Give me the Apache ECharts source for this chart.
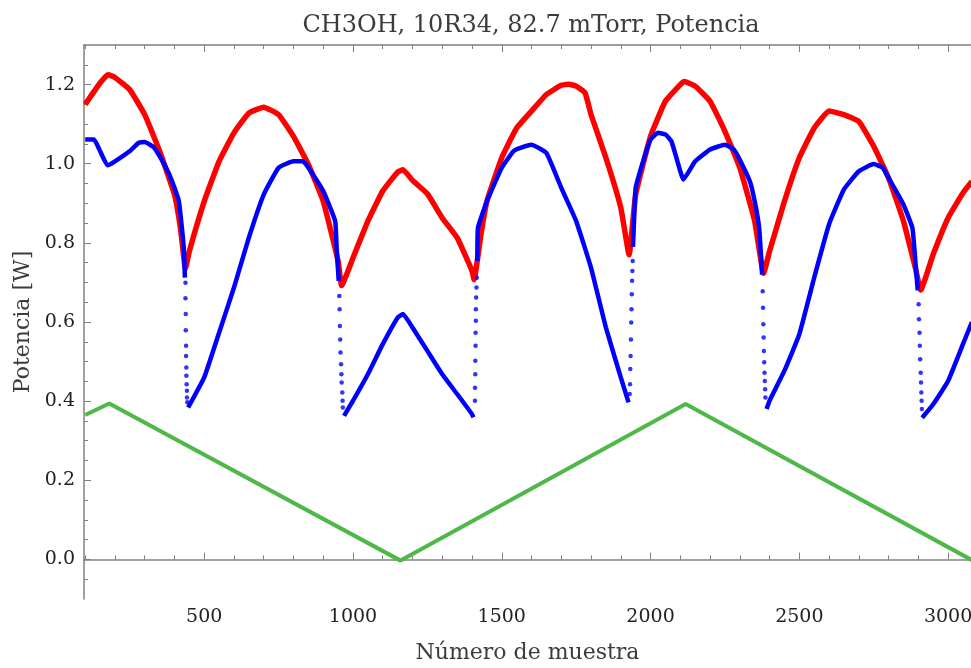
<!DOCTYPE html>
<html><head><meta charset="utf-8">
<script src="https://cdn.jsdelivr.net/npm/echarts@6/dist/echarts.min.js"></script>
<style>html,body{margin:0;padding:0;background:#fff}#c{width:971px;height:668px}</style>
</head><body><div id="c"></div>
<script>
// ---- tick labels / ticks ----
const xMajorTicks = [500, 1000, 1500, 2000, 2500, 3000];
const xMinorTicks = [100, 200, 300, 400, 600, 700, 800, 900, 1100, 1200, 1300, 1400, 1600, 1700, 1800, 1900, 2100, 2200, 2300, 2400, 2600, 2700, 2800, 2900];
const yMajorTicks = [0, 0.2, 0.4, 0.6, 0.8, 1.0, 1.2];
const yMinorTicks = [-0.05, 0.05, 0.1, 0.15, 0.25, 0.3, 0.35, 0.45, 0.5, 0.55, 0.65, 0.7, 0.75, 0.85, 0.9, 0.95, 1.05, 1.1, 1.15, 1.25];

// ---- series values ----
const red = [[100,1.150],[150,1.204],[177,1.225],[200,1.218],[250,1.187],[300,1.124],[350,1.032],[400,0.922],[420,0.838],[437,0.735],[450,0.779],[500,0.905],[550,1.006],[600,1.078],[650,1.128],[700,1.143],[750,1.124],[800,1.069],[850,0.998],[900,0.905],[950,0.754],[962,0.692],[1000,0.762],[1050,0.855],[1100,0.931],[1150,0.979],[1168,0.985],[1200,0.958],[1250,0.924],[1300,0.863],[1350,0.813],[1400,0.729],[1407,0.707],[1430,0.821],[1450,0.905],[1500,1.015],[1550,1.090],[1600,1.133],[1650,1.175],[1700,1.198],[1725,1.201],[1750,1.196],[1780,1.179],[1800,1.124],[1850,1.015],[1900,0.889],[1928,0.770],[1950,0.922],[2000,1.069],[2050,1.158],[2100,1.200],[2113,1.208],[2150,1.196],[2200,1.158],[2250,1.082],[2300,0.990],[2350,0.855],[2380,0.723],[2400,0.779],[2450,0.905],[2500,1.015],[2550,1.090],[2600,1.133],[2650,1.124],[2700,1.107],[2750,1.044],[2800,0.964],[2850,0.855],[2890,0.737],[2908,0.681],[2950,0.771],[3000,0.863],[3050,0.926],[3080,0.955]];

const blueA = [[100,1.061],[130,1.061],[150,1.032],[175,0.996],[200,1.006],[250,1.032],[280,1.053],[300,1.055],[330,1.042],[350,1.019],[380,0.977],[400,0.939],[415,0.905],[425,0.838],[432,0.779],[435,0.712]];
const blueB = [[446,0.384],[500,0.460],[550,0.573],[600,0.687],[650,0.813],[700,0.922],[750,0.990],[800,1.006],[832,1.006],[850,0.990],[900,0.931],[940,0.855],[945,0.788],[952,0.704]];
const blueC = [[970,0.363],[1000,0.401],[1050,0.468],[1100,0.544],[1150,0.611],[1168,0.620],[1200,0.586],[1250,0.527],[1300,0.468],[1350,0.418],[1400,0.367],[1405,0.359]];
const blueD = [[1418,0.754],[1420,0.838],[1450,0.905],[1500,0.990],[1540,1.032],[1563,1.040],[1600,1.048],[1650,1.027],[1700,0.939],[1750,0.855],[1800,0.737],[1850,0.586],[1900,0.460],[1926,0.397]];
const blueE = [[1941,0.790],[1945,0.863],[1950,0.939],[1975,1.006],[2000,1.061],[2025,1.078],[2050,1.074],[2070,1.057],[2100,0.981],[2110,0.960],[2150,1.006],[2200,1.036],[2250,1.048],[2280,1.036],[2300,1.010],[2334,0.955],[2350,0.905],[2365,0.838],[2375,0.720]];
const blueF = [[2390,0.380],[2400,0.401],[2450,0.477],[2500,0.569],[2550,0.712],[2600,0.847],[2650,0.935],[2700,0.981],[2750,0.999],[2780,0.990],[2800,0.964],[2850,0.897],[2880,0.838],[2890,0.754],[2898,0.680]];
const blueG = [[2913,0.358],[2950,0.392],[3000,0.451],[3050,0.544],[3080,0.600]];

const blueDots = [
  [437,0.699],[437,0.660],[438,0.620],[438,0.579],[439,0.540],[439,0.514],[440,0.485],[440,0.464],[441,0.443],[442,0.426],[442,0.409],[443,0.397],
  [954,0.666],[955,0.632],[956,0.590],[957,0.556],[958,0.523],[960,0.493],[961,0.468],[962,0.447],[964,0.422],[965,0.401],[966,0.384],
  [1410,0.401],[1410,0.434],[1411,0.468],[1411,0.502],[1412,0.540],[1412,0.573],[1413,0.603],[1413,0.632],[1414,0.662],[1415,0.687],[1416,0.712],
  [1930,0.418],[1931,0.443],[1932,0.481],[1933,0.514],[1934,0.556],[1935,0.599],[1936,0.632],[1937,0.670],[1938,0.704],[1939,0.729],[1940,0.754],
  [2377,0.678],[2378,0.636],[2379,0.594],[2380,0.561],[2381,0.527],[2382,0.498],[2383,0.472],[2384,0.451],[2385,0.430],[2386,0.409],
  [2901,0.645],[2902,0.607],[2904,0.573],[2905,0.540],[2906,0.506],[2908,0.472],[2909,0.447],[2910,0.422],[2911,0.401],[2912,0.380]
];

const green = [[100,0.365],[181,0.394],[1160,-0.003],[2118,0.393],[3100,-0.010]];

// ---- build ----
const blueSegments = [blueA, blueB, blueC, blueD, blueE, blueF, blueG];
const blueLine = [];
blueSegments.forEach((s, i) => {
  if (i > 0) blueLine.push([s[0][0] - 1, '-']);
  s.forEach(p => blueLine.push(p));
});

const FONT = 'DejaVu Serif';
const AX = '#808080';
const xBase = { type: 'value', min: 96, max: 3077, splitLine: { show: false } };
const yBase = { type: 'value', min: -0.1, max: 1.3, splitLine: { show: false } };

const chart = echarts.init(document.getElementById('c'));
chart.setOption({
  animation: false,
  backgroundColor: '#fff',
  title: {
    text: 'CH3OH, 10R34, 82.7 mTorr, Potencia',
    left: 526, top: 9, textAlign: 'center',
    textStyle: { fontFamily: FONT, fontSize: 24, fontWeight: 'normal', color: '#3c3c3c' }
  },
  grid: { left: 84, right: 0, top: 45, bottom: 69, containLabel: false, outerBoundsMode: 'none' },
  xAxis: [
    Object.assign({}, xBase, {
      position: 'bottom',
      axisLine: { show: true, lineStyle: { color: AX, width: 1.5 } },
      axisTick: { show: true, inside: true, length: 7, customValues: xMajorTicks, lineStyle: { color: AX, width: 1 } },
      axisLabel: { show: true, customValues: xMajorTicks, margin: 9, fontFamily: FONT, fontSize: 19, color: '#222',
        formatter: v => String(v) },
      name: 'Número de muestra', nameLocation: 'middle', nameGap: 43,
      nameTextStyle: { fontFamily: FONT, fontSize: 22, color: '#3c3c3c' }
    }),
    Object.assign({}, xBase, {
      position: 'bottom',
      axisLine: { show: false },
      axisTick: { show: true, inside: true, length: 4, customValues: xMinorTicks, lineStyle: { color: AX, width: 1 } },
      axisLabel: { show: false }
    }),
    Object.assign({}, xBase, {
      position: 'top',
      axisLine: { show: true, lineStyle: { color: AX, width: 1.5 } },
      axisTick: { show: true, inside: true, length: 7, customValues: xMajorTicks, lineStyle: { color: AX, width: 1 } },
      axisLabel: { show: false }
    }),
    Object.assign({}, xBase, {
      position: 'top',
      axisLine: { show: false },
      axisTick: { show: true, inside: true, length: 4, customValues: xMinorTicks, lineStyle: { color: AX, width: 1 } },
      axisLabel: { show: false }
    })
  ],
  yAxis: [
    Object.assign({}, yBase, {
      position: 'left',
      axisLine: { show: true, lineStyle: { color: AX, width: 1.5 } },
      axisTick: { show: true, inside: true, length: 7, customValues: yMajorTicks, lineStyle: { color: AX, width: 1 } },
      axisLabel: { show: true, customValues: yMajorTicks, margin: 9, fontFamily: FONT, fontSize: 19, color: '#222',
        formatter: v => Number(v).toFixed(1) },
      name: 'Potencia [W]', nameLocation: 'middle', nameGap: 50, nameRotate: 90,
      nameTextStyle: { fontFamily: FONT, fontSize: 22, color: '#3c3c3c' }
    }),
    Object.assign({}, yBase, {
      position: 'left',
      axisLine: { show: false },
      axisTick: { show: true, inside: true, length: 4, customValues: yMinorTicks, lineStyle: { color: AX, width: 1 } },
      axisLabel: { show: false }
    })
  ],
  series: [
    { type: 'line', name: 'green', data: green, xAxisIndex: 0, yAxisIndex: 0, showSymbol: false,
      lineStyle: { color: '#4fb848', width: 4 }, z: 1, clip: true },
    { type: 'line', name: 'red', data: red, xAxisIndex: 0, yAxisIndex: 0, showSymbol: false, smooth: 0.12,
      lineStyle: { color: '#ff0000', width: 5.5 }, z: 2, clip: true },
    { type: 'line', name: 'blue', data: blueLine, xAxisIndex: 0, yAxisIndex: 0, showSymbol: false, smooth: 0.12,
      connectNulls: false, lineStyle: { color: '#0000ff', width: 4.5 }, z: 3, clip: true },
    { type: 'scatter', name: 'blueDots', data: blueDots, xAxisIndex: 0, yAxisIndex: 0, symbolSize: 4.5,
      itemStyle: { color: '#0000ff' }, z: 3, clip: true }
  ]
});
</script>
</body></html>
